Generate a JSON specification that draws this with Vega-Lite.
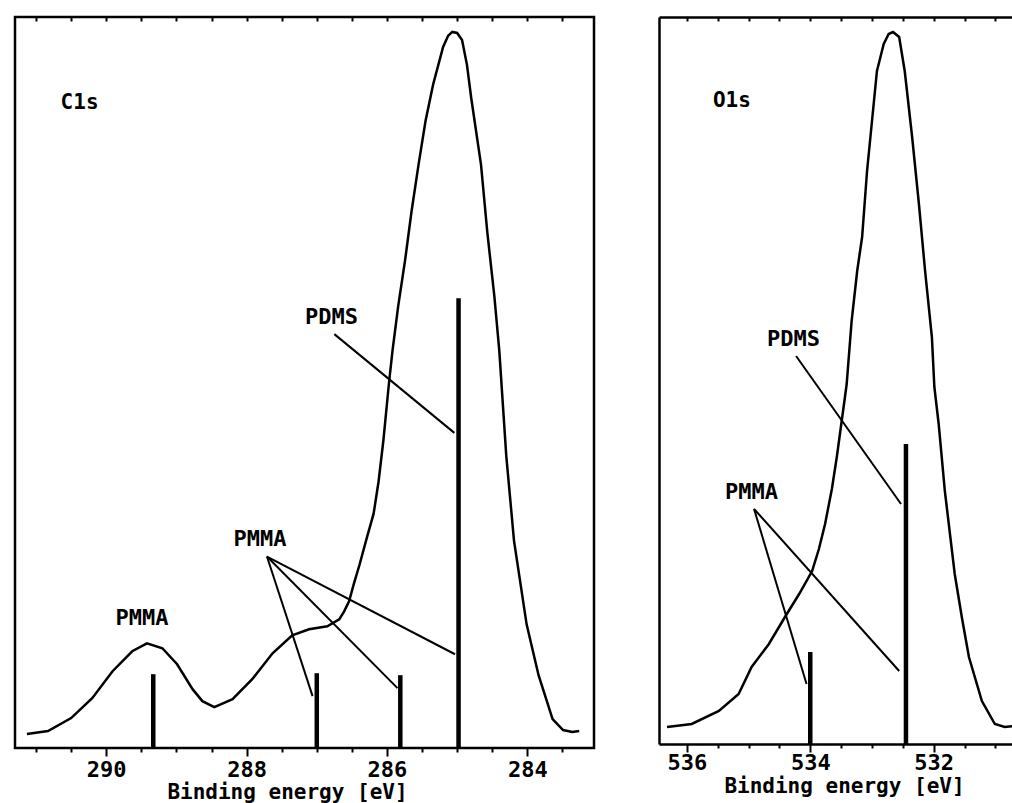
{
  "$schema": "https://vega.github.io/schema/vega-lite/v6.json",
  "padding": {"left": 13, "top": 14, "right": 0, "bottom": 0},
  "autosize": {"type": "pad"},
  "background": "white",
  "spacing": 65,
  "bounds": "flush",
  "config": {
    "view": {"stroke": null},
    "font": "DejaVu Sans Mono",
    "axis": {"grid": false, "labelColor": "black", "titleColor": "black", "domainColor": "black", "tickColor": "black", "labelFont": "DejaVu Sans Mono", "titleFont": "DejaVu Sans Mono"}
  },
  "datasets": {
    "c1s_curve": [
      {"eV": 291.13, "intensity": 14}, {"eV": 290.83, "intensity": 17}, {"eV": 290.5, "intensity": 30}, {"eV": 290.2, "intensity": 50},
      {"eV": 289.91, "intensity": 77}, {"eV": 289.63, "intensity": 97}, {"eV": 289.42, "intensity": 105}, {"eV": 289.2, "intensity": 100},
      {"eV": 288.99, "intensity": 84}, {"eV": 288.77, "intensity": 59}, {"eV": 288.63, "intensity": 47}, {"eV": 288.46, "intensity": 41},
      {"eV": 288.2, "intensity": 49}, {"eV": 287.92, "intensity": 69}, {"eV": 287.63, "intensity": 95}, {"eV": 287.35, "intensity": 113},
      {"eV": 287.11, "intensity": 119}, {"eV": 286.85, "intensity": 122}, {"eV": 286.68, "intensity": 129}, {"eV": 286.61, "intensity": 137},
      {"eV": 286.54, "intensity": 147}, {"eV": 286.47, "intensity": 165}, {"eV": 286.39, "intensity": 184}, {"eV": 286.29, "intensity": 210},
      {"eV": 286.19, "intensity": 235}, {"eV": 286.12, "intensity": 267}, {"eV": 286.05, "intensity": 309}, {"eV": 285.97, "intensity": 367},
      {"eV": 285.92, "intensity": 399}, {"eV": 285.84, "intensity": 443}, {"eV": 285.74, "intensity": 490}, {"eV": 285.65, "intensity": 538},
      {"eV": 285.55, "intensity": 585}, {"eV": 285.45, "intensity": 629}, {"eV": 285.34, "intensity": 666}, {"eV": 285.2, "intensity": 703},
      {"eV": 285.13, "intensity": 714}, {"eV": 285.07, "intensity": 718}, {"eV": 285.0, "intensity": 717}, {"eV": 284.93, "intensity": 710},
      {"eV": 284.86, "intensity": 685}, {"eV": 284.8, "intensity": 652}, {"eV": 284.66, "intensity": 585}, {"eV": 284.57, "intensity": 517},
      {"eV": 284.47, "intensity": 453}, {"eV": 284.4, "intensity": 399}, {"eV": 284.3, "intensity": 293}, {"eV": 284.19, "intensity": 208},
      {"eV": 284.01, "intensity": 124}, {"eV": 283.84, "intensity": 73}, {"eV": 283.64, "intensity": 29}, {"eV": 283.49, "intensity": 18},
      {"eV": 283.36, "intensity": 16}, {"eV": 283.26, "intensity": 17}
    ],
    "c1s_sticks": [
      {"eV": 289.33, "height": 74}, {"eV": 287.0, "height": 75}, {"eV": 285.81, "height": 73}, {"eV": 284.98, "height": 451}
    ],
    "c1s_leaders": [
      {"eV": 286.75, "intensity": 415, "eV2": 285.04, "intensity2": 316},
      {"eV": 287.71, "intensity": 192, "eV2": 287.06, "intensity2": 52},
      {"eV": 287.71, "intensity": 192, "eV2": 285.85, "intensity2": 60},
      {"eV": 287.71, "intensity": 192, "eV2": 285.03, "intensity2": 94}
    ],
    "c1s_labels": [
      {"eV": 286.79, "intensity": 432, "text": "PDMS"},
      {"eV": 287.81, "intensity": 210, "text": "PMMA"},
      {"eV": 289.49, "intensity": 130, "text": "PMMA"}
    ],
    "c1s_title": [{"eV": 290.38, "intensity": 647, "text": "C1s"}],
    "o1s_curve": [
      {"eV": 536.32, "intensity": 17}, {"eV": 535.92, "intensity": 20}, {"eV": 535.48, "intensity": 33}, {"eV": 535.16, "intensity": 50},
      {"eV": 534.95, "intensity": 77}, {"eV": 534.67, "intensity": 100}, {"eV": 534.41, "intensity": 127}, {"eV": 534.18, "intensity": 150},
      {"eV": 533.97, "intensity": 173}, {"eV": 533.86, "intensity": 195}, {"eV": 533.76, "intensity": 220}, {"eV": 533.65, "intensity": 255},
      {"eV": 533.57, "intensity": 287}, {"eV": 533.46, "intensity": 337}, {"eV": 533.41, "intensity": 360}, {"eV": 533.33, "intensity": 423},
      {"eV": 533.24, "intensity": 473}, {"eV": 533.16, "intensity": 507}, {"eV": 533.08, "intensity": 573}, {"eV": 533.0, "intensity": 623},
      {"eV": 532.92, "intensity": 673}, {"eV": 532.81, "intensity": 700}, {"eV": 532.73, "intensity": 710}, {"eV": 532.66, "intensity": 712},
      {"eV": 532.56, "intensity": 707}, {"eV": 532.47, "intensity": 673}, {"eV": 532.35, "intensity": 607}, {"eV": 532.24, "intensity": 540},
      {"eV": 532.14, "intensity": 473}, {"eV": 532.03, "intensity": 407}, {"eV": 531.99, "intensity": 357}, {"eV": 531.92, "intensity": 320},
      {"eV": 531.82, "intensity": 253}, {"eV": 531.66, "intensity": 170}, {"eV": 531.54, "intensity": 125}, {"eV": 531.43, "intensity": 87},
      {"eV": 531.22, "intensity": 43}, {"eV": 531.01, "intensity": 20}, {"eV": 530.85, "intensity": 17}, {"eV": 530.7, "intensity": 18}
    ],
    "o1s_sticks": [
      {"eV": 534.0, "height": 92}, {"eV": 532.45, "height": 300}
    ],
    "o1s_leaders": [
      {"eV": 534.23, "intensity": 388, "eV2": 532.53, "intensity2": 240},
      {"eV": 534.91, "intensity": 235, "eV2": 534.06, "intensity2": 60},
      {"eV": 534.91, "intensity": 235, "eV2": 532.56, "intensity2": 73}
    ],
    "o1s_labels": [
      {"eV": 534.27, "intensity": 405, "text": "PDMS"},
      {"eV": 534.95, "intensity": 252, "text": "PMMA"}
    ],
    "o1s_title": [{"eV": 535.27, "intensity": 643, "text": "O1s"}]
  },
  "hconcat": [
    {
      "width": 579,
      "height": 731,
      "view": {"stroke": "black", "strokeWidth": 2.5},
      "resolve": {"axis": {"x": "independent", "y": "independent"}},
      "layer": [
        {
          "data": {"name": "c1s_curve"},
          "mark": {"type": "line", "color": "black", "strokeWidth": 2.5, "clip": true},
          "encoding": {
            "x": {"field": "eV", "type": "quantitative", "scale": {"domain": [283.05, 291.3], "reverse": true, "nice": false, "zero": false},
              "axis": {"orient": "bottom", "values": [291, 290.5, 290, 289.5, 289, 288.5, 288, 287.5, 287, 286.5, 286, 285.5, 285, 284.5, 284, 283.5],
                "labelExpr": "datum.value % 2 === 0 ? '' + datum.value : ''", "labelOverlap": false, "labelFlush": false,
                "tickSize": {"condition": {"test": "datum.value % 2 === 0", "value": 8}, "value": 4}, "tickWidth": 2,
                "domain": false, "labelFontSize": 22, "labelFontWeight": "bold", "labelPadding": 3,
                "title": "Binding energy [eV]", "titleFontSize": 21, "titleFontWeight": "bold",
                "titleX": 272, "titleY": 50, "titleAlign": "center", "titleBaseline": "alphabetic"}},
            "y": {"field": "intensity", "type": "quantitative", "scale": {"domain": [0, 733], "nice": false, "zero": false}, "axis": null}
          }
        },
        {
          "data": {"name": "c1s_sticks"},
          "mark": {"type": "rule", "color": "black", "strokeWidth": 4.5},
          "encoding": {
            "x": {"field": "eV", "type": "quantitative",
              "axis": {"orient": "top", "values": [291, 290.5, 290, 289.5, 289, 288.5, 288, 287.5, 287, 286.5, 286, 285.5, 285, 284.5, 284, 283.5],
                "labels": false, "domain": false, "tickSize": -4, "tickWidth": 2, "title": null}},
            "y": {"field": "height", "type": "quantitative", "axis": null},
            "y2": {"datum": 0}
          }
        },
        {
          "data": {"name": "c1s_leaders"},
          "mark": {"type": "rule", "color": "black", "strokeWidth": 2},
          "encoding": {
            "x": {"field": "eV", "type": "quantitative", "axis": null},
            "x2": {"field": "eV2"},
            "y": {"field": "intensity", "type": "quantitative", "axis": null},
            "y2": {"field": "intensity2"}
          }
        },
        {
          "data": {"name": "c1s_labels"},
          "mark": {"type": "text", "font": "DejaVu Sans Mono", "fontSize": 22, "fontWeight": "bold", "align": "center", "baseline": "middle", "color": "black"},
          "encoding": {
            "x": {"field": "eV", "type": "quantitative", "axis": null},
            "y": {"field": "intensity", "type": "quantitative", "axis": null},
            "text": {"field": "text"}
          }
        },
        {
          "data": {"name": "c1s_title"},
          "mark": {"type": "text", "font": "DejaVu Sans Mono", "fontSize": 21, "fontWeight": "bold", "align": "center", "baseline": "middle", "color": "black"},
          "encoding": {
            "x": {"field": "eV", "type": "quantitative", "axis": null},
            "y": {"field": "intensity", "type": "quantitative", "axis": null},
            "text": {"field": "text"}
          }
        }
      ]
    },
    {
      "width": 355,
      "height": 727,
      "resolve": {"axis": {"x": "independent", "y": "independent"}},
      "layer": [
        {
          "data": {"name": "o1s_curve"},
          "mark": {"type": "line", "color": "black", "strokeWidth": 2.5, "clip": true},
          "encoding": {
            "x": {"field": "eV", "type": "quantitative", "scale": {"domain": [530.7, 536.45], "reverse": true, "nice": false, "zero": false},
              "axis": {"orient": "bottom", "values": [536, 535.5, 535, 534.5, 534, 533.5, 533, 532.5, 532, 531.5, 531],
                "labelExpr": "datum.value % 2 === 0 ? '' + datum.value : ''", "labelOverlap": false, "labelFlush": false,
                "tickSize": {"condition": {"test": "datum.value % 2 === 0", "value": 8}, "value": 4}, "tickWidth": 2,
                "domain": true, "domainWidth": 2.5, "labelFontSize": 22, "labelFontWeight": "bold", "labelPadding": 0,
                "title": "Binding energy [eV]", "titleFontSize": 21, "titleFontWeight": "bold",
                "titleX": 185, "titleY": 48, "titleAlign": "center", "titleBaseline": "alphabetic"}},
            "y": {"field": "intensity", "type": "quantitative", "scale": {"domain": [0, 727], "nice": false, "zero": false},
              "axis": {"orient": "left", "ticks": false, "labels": false, "title": null, "domain": true, "domainWidth": 2.5}}
          }
        },
        {
          "data": {"name": "o1s_sticks"},
          "mark": {"type": "rule", "color": "black", "strokeWidth": 4.5},
          "encoding": {
            "x": {"field": "eV", "type": "quantitative",
              "axis": {"orient": "top", "values": [536, 535.5, 535, 534.5, 534, 533.5, 533, 532.5, 532, 531.5, 531],
                "labels": false, "domain": true, "domainWidth": 2.5, "tickSize": -4, "tickWidth": 2, "title": null}},
            "y": {"field": "height", "type": "quantitative", "axis": null},
            "y2": {"datum": 0}
          }
        },
        {
          "data": {"name": "o1s_leaders"},
          "mark": {"type": "rule", "color": "black", "strokeWidth": 2},
          "encoding": {
            "x": {"field": "eV", "type": "quantitative", "axis": null},
            "x2": {"field": "eV2"},
            "y": {"field": "intensity", "type": "quantitative", "axis": null},
            "y2": {"field": "intensity2"}
          }
        },
        {
          "data": {"name": "o1s_labels"},
          "mark": {"type": "text", "font": "DejaVu Sans Mono", "fontSize": 22, "fontWeight": "bold", "align": "center", "baseline": "middle", "color": "black"},
          "encoding": {
            "x": {"field": "eV", "type": "quantitative", "axis": null},
            "y": {"field": "intensity", "type": "quantitative", "axis": null},
            "text": {"field": "text"}
          }
        },
        {
          "data": {"name": "o1s_title"},
          "mark": {"type": "text", "font": "DejaVu Sans Mono", "fontSize": 21, "fontWeight": "bold", "align": "center", "baseline": "middle", "color": "black"},
          "encoding": {
            "x": {"field": "eV", "type": "quantitative", "axis": null},
            "y": {"field": "intensity", "type": "quantitative", "axis": null},
            "text": {"field": "text"}
          }
        }
      ]
    }
  ]
}
